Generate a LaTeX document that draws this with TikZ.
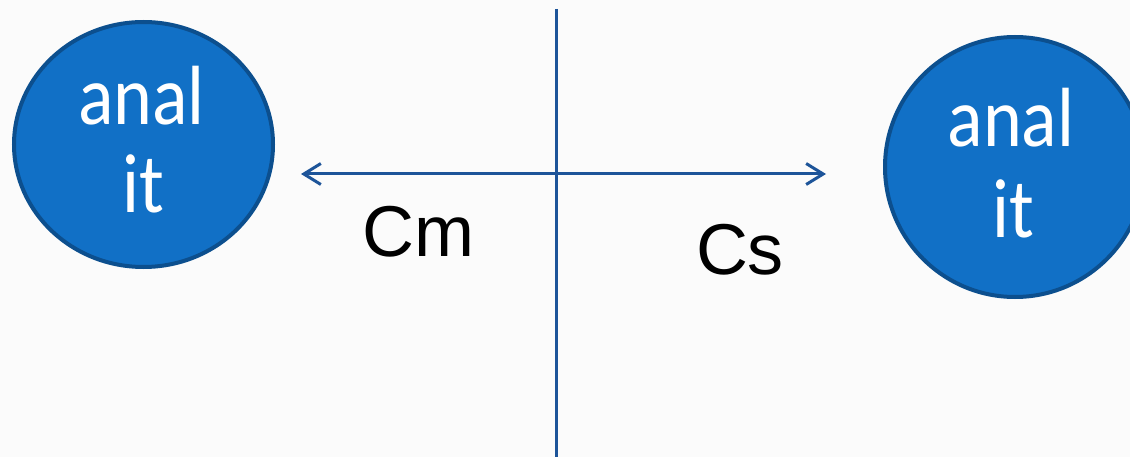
\documentclass[tikz,border=0pt]{standalone}
\usepackage{fontspec}
\usetikzlibrary{shapes.geometric,arrows.meta}
\newfontfamily\calfont[FakeStretch=0.88]{Carlito}
\newfontfamily\arifont{Liberation Sans}
\definecolor{linecol}{HTML}{1D5499}
\definecolor{fillcol}{HTML}{1170C6}
\definecolor{bordcol}{HTML}{0C4F8E}
\definecolor{bgcol}{HTML}{FBFBFB}
\begin{document}
\begin{tikzpicture}[x=1pt,y=-1pt,
  blob/.style={ellipse,draw=bordcol,fill=fillcol,line width=4pt,inner sep=0pt},
  wtext/.style={anchor=base,text=white,inner sep=0pt,font=\calfont\fontsize{84}{88}\selectfont},
  btext/.style={anchor=base,text=black,inner sep=0pt,font=\arifont\fontsize{72}{88}\selectfont},
  conn/.style={draw=linecol,line width=3pt}]
\fill[bgcol] (0,0) rectangle (1130,457);
\useasboundingbox (0,0) rectangle (1130,457);
\node[blob,minimum width=259pt,minimum height=245pt] (L) at (143.5,144.5) {};
\node[blob,minimum width=260pt,minimum height=260pt] (R) at (1015,167) {};
\node[wtext] (L1) at (141.5,125) {anal};
\node[wtext] (L2) at (143,213) {it};
\node[wtext] (R1) at (1011,147) {anal};
\node[wtext] (R2) at (1013,237) {it};
\node[btext] (Cm) at (418,257) {Cm};
\node[btext] (Cs) at (740,275) {Cs};
\coordinate (hl) at (301,174);
\coordinate (hr) at (826,174);
\coordinate (vt) at (556,9);
\coordinate (vb) at (556,457);
\draw[conn] (vt) -- (vb);
\draw[conn,{Straight Barb[length=17pt,width=21pt]}-{Straight Barb[length=17pt,width=21pt]}] (hl) -- (hr);
\end{tikzpicture}
\end{document}
